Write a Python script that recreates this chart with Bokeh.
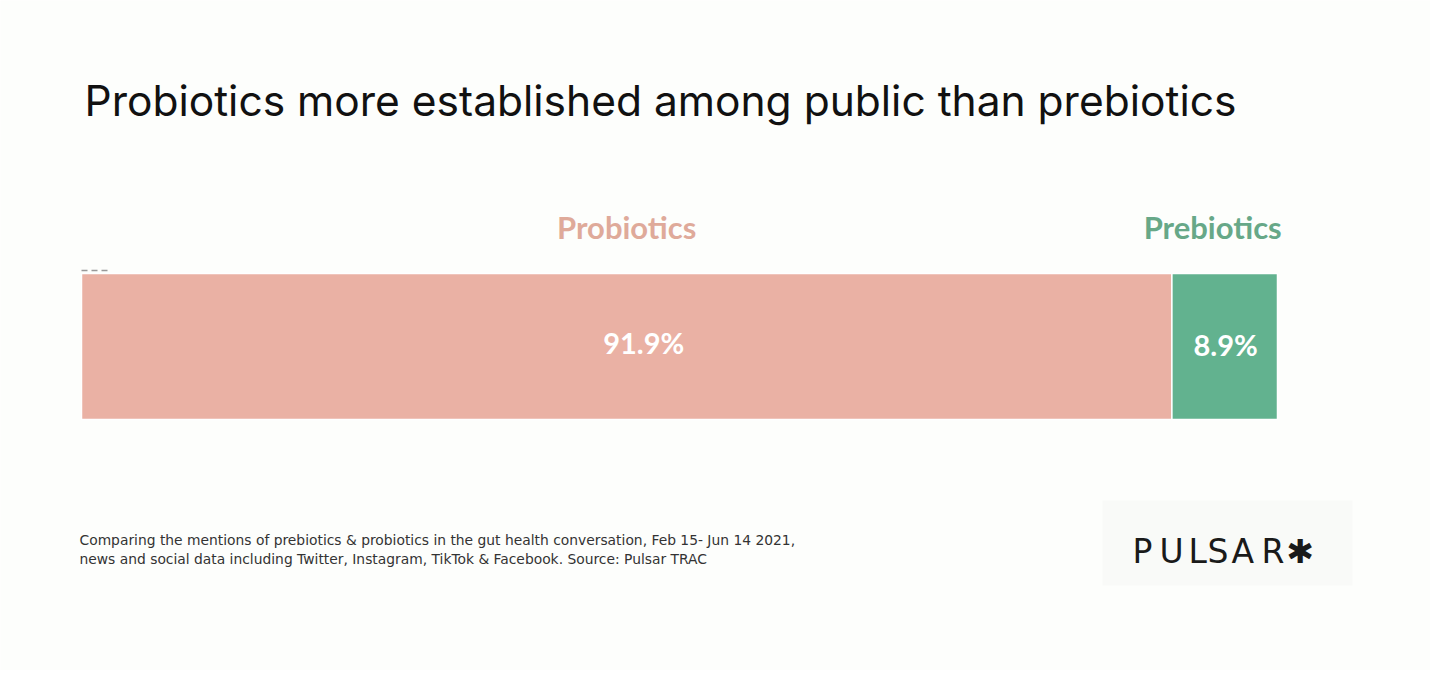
from bokeh.plotting import figure
from bokeh.models import Range1d, Label, ColumnDataSource, BoxAnnotation
from bokeh.core.properties import value
from bokeh.embed import file_html
from bokeh.resources import INLINE

# ---- data ----
categories = ["Probiotics", "Prebiotics"]
shares = [91.9, 8.9]
value_labels = ["91.9%", "8.9%"]
bar_colors = ["#EAB1A4", "#62B28F"]
label_colors = ["#DFAA9A", "#67A888"]

title_text = "Probiotics more established among public than prebiotics"
footnote_lines = [
    "Comparing the mentions of prebiotics & probiotics in the gut health conversation, Feb 15- Jun 14 2021,",
    "news and social data including Twitter, Instagram, TikTok & Facebook. Source: Pulsar TRAC",
]

# ---- derived stacked positions ----
lefts, rights, centers = [], [], []
acc = 0.0
for s in shares:
    lefts.append(acc)
    rights.append(acc + s)
    centers.append(acc + s / 2)
    acc += s
total = acc

W, H = 1430, 670
BAR_L, BAR_R = 81, 1277      # canvas px for 0 and total
BAR_T, BAR_B = 273, 419      # canvas px for bar top / bottom
px_per = (BAR_R - BAR_L) / total
x0 = -BAR_L / px_per
x1 = (W - BAR_L) / px_per
py_per = float(BAR_B - BAR_T)
y_top = 0.5 + BAR_T / py_per
y_bot = -0.5 - (H - BAR_B) / py_per

p = figure(width=W, height=H, output_backend="svg", toolbar_location=None,
           x_range=Range1d(x0, x1), y_range=Range1d(y_bot, y_top),
           min_border=0, min_border_left=0, min_border_right=0,
           min_border_top=0, min_border_bottom=0)
p.axis.visible = False
p.grid.visible = False
p.outline_line_color = None
p.background_fill_color = "#FDFEFC"
p.border_fill_color = "#FDFEFC"

src = ColumnDataSource(dict(cat=categories, left=lefts, right=rights, center=centers,
                            y=[0, 0], lab=value_labels, color=bar_colors,
                            lcolor=label_colors, ly=[0.5 + 47 / py_per] * 2,
                            cat_dx=[0, -12], val_dx=[17, 1], val_dy=[-4, -2]))
p.hbar(y="y", left="left", right="right", height=1.0, color="color",
       line_color="white", line_width=1.5, source=src)

# category labels above bars
p.text(x="center", y="ly", text="cat", text_color="lcolor", source=src,
       x_offset="cat_dx",
       text_font=value("Lato"), text_font_style="bold", text_font_size="31px",
       text_align="center", text_baseline="alphabetic")
# value labels inside bars
p.text(x="center", y="y", text="lab", text_color="white", source=src,
       x_offset="val_dx", y_offset="val_dy",
       text_font=value("Lato"), text_font_style="bold", text_font_size="29px",
       text_align="center", text_baseline="middle")

# small dashed mark at top-left of bar
p.line(x=[0, 27 / px_per], y=[0.5 + 3 / py_per] * 2, line_color="#999999",
       line_width=1.5, line_dash="6 4")

# title
p.add_layout(Label(x=84, y=H - 100, x_units="screen", y_units="screen",
                   text=title_text, text_font="Inter", text_font_size="42.5px",
                   text_color="#111111", text_baseline="alphabetic"))

# footnote
for i, line in enumerate(footnote_lines):
    p.add_layout(Label(x=79, y=H - 539 - i * 19, x_units="screen", y_units="screen",
                       text=line, text_font="DejaVu Sans", text_font_size="13.85px",
                       text_color="#333333", text_baseline="alphabetic"))

# logo box
p.add_layout(BoxAnnotation(left=1102, right=1352, top=H - 500, bottom=H - 585,
                           left_units="screen", right_units="screen",
                           top_units="screen", bottom_units="screen",
                           fill_color="#F9FAF8", fill_alpha=1.0, line_color=None))
logo_letters = ["P", "U", "L", "S", "A", "R", "✱"]
logo_x = [1132, 1159, 1188, 1207, 1231, 1261, 1286]
for ch, lx in zip(logo_letters, logo_x):
    p.add_layout(Label(x=lx, y=H - 551, x_units="screen", y_units="screen",
                       text=ch, text_font="DejaVu Sans", text_font_size="33px",
                       text_color="#1A1A1A", text_baseline="alphabetic"))

open("out.html", "w").write(file_html(p, INLINE))
